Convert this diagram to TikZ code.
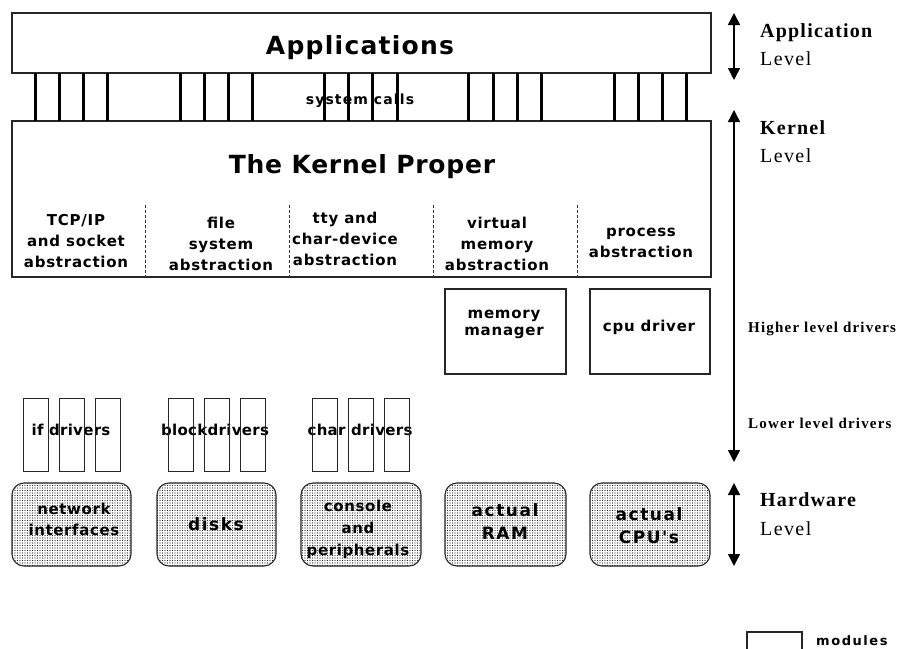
\documentclass[tikz,border=0pt]{standalone}
\usepackage{fontspec}
\setmainfont{Liberation Serif}
\newfontfamily\ksans{DejaVu Sans}
\newfontfamily\kserif{Liberation Serif}
\usetikzlibrary{arrows.meta,patterns.meta}
\begin{document}
\begin{tikzpicture}[x=1pt,y=-1pt,
  box/.style={draw=black!85, line width=1.1pt, inner sep=0pt, outer sep=0pt},
  hw/.style={box, rounded corners=12pt, pattern={Dots[distance=2.5pt, radius=0.55pt]}, pattern color=black!85},
  modbox/.style={draw=black!85, line width=0.9pt, minimum width=25pt, minimum height=73pt, inner sep=0pt, outer sep=0pt},
  sysbar/.style={line width=3pt},
  sepline/.style={draw=black!80, line width=0.8pt, dash pattern=on 3pt off 2pt},
  lvlarrow/.style={line width=1.4pt, {Triangle[width=12pt,length=12pt]}-{Triangle[width=12pt,length=12pt]}},
  bigtxt/.style={font=\ksans\bfseries\fontsize{25}{30}\selectfont\addfontfeatures{LetterSpace=5}, inner sep=0pt, anchor=base},
  stxt/.style={font=\ksans\bfseries\fontsize{15}{21}\selectfont\addfontfeatures{LetterSpace=5}, align=center, inner sep=0pt},
  modtxt/.style={font=\ksans\bfseries\fontsize{15}{21}\selectfont\addfontfeatures{LetterSpace=2}, inner sep=0pt, anchor=base},
  hwtxt/.style={font=\ksans\bfseries\fontsize{15}{21}\selectfont\addfontfeatures{LetterSpace=4}, align=center, inner sep=0pt},
  hwbig/.style={font=\ksans\bfseries\fontsize{17}{23}\selectfont\addfontfeatures{LetterSpace=9}, align=center, inner sep=0pt},
  lvlb/.style={font=\kserif\bfseries\fontsize{20}{22}\selectfont\addfontfeatures{LetterSpace=6}, inner sep=0pt, anchor=base west},
  lvlr/.style={font=\kserif\fontsize{20}{22}\selectfont\addfontfeatures{LetterSpace=7}, inner sep=0pt, anchor=base west},
  drvtxt/.style={font=\kserif\bfseries\fontsize{15}{18}\selectfont\addfontfeatures{LetterSpace=8}, inner sep=0pt, anchor=base west}
]
\fill[white] (0,0) rectangle (907,648);
\useasboundingbox (0,0) rectangle (907,648);

% main boxes
\node[box, minimum width=699pt, minimum height=60pt] (apps) at (361.5,43) {};
\node[bigtxt] (appstxt) at (360,54) {Applications};
\node[box, minimum width=699pt, minimum height=156pt] (kern) at (361.5,199) {};
\node[bigtxt, font=\ksans\bfseries\fontsize{25}{30}\selectfont\addfontfeatures{LetterSpace=3}] (kerntxt) at (362,173) {The Kernel Proper};

% system calls
\node[stxt, anchor=base, font=\ksans\bfseries\fontsize{14}{21}\selectfont\addfontfeatures{LetterSpace=8}] (sctxt) at (360,104) {system calls};
\foreach \x in {35,59,83,107,180,204,228,252,324,348,372,397,468,493,517,541,614,638,662,686}
  \draw[sysbar] (\x,73) -- (\x,121);

% abstraction separators
\foreach \x in {145,289,433,577}
  \draw[sepline] (\x,205) -- (\x,277);

% abstraction texts
\node[stxt] (tcp) at (76,241) {TCP/IP\\and socket\\abstraction};
\node[stxt] (fs) at (221,244) {file\\system\\abstraction};
\node[stxt] (tty) at (345,239) {tty and\\char-device\\abstraction};
\node[stxt] (vm) at (497,244) {virtual\\memory\\abstraction};
\node[stxt] (proc) at (641,243) {process\\abstraction};

% higher level drivers
\node[box, minimum width=121pt, minimum height=85pt] (mm) at (505.5,331.5) {};
\node[stxt, font=\ksans\bfseries\fontsize{15}{17}\selectfont\addfontfeatures{LetterSpace=5}] (mmtxt) at (504,324) {memory\\manager};
\node[box, minimum width=120pt, minimum height=85pt] (cpud) at (650,331.5) {};
\node[stxt] (cpudtxt) at (649,327) {cpu driver};

% lower level driver modules (text first, boxes drawn over it)
\node[modtxt] (iftxt) at (71,435) {if drivers};
\node[modtxt] (blktxt) at (215,435) {blockdrivers};
\node[modtxt] (chrtxt) at (360,435) {char drivers};
\foreach \x/\n in {35.5/if1,71.5/if2,108/if3,180.5/bl1,216.5/bl2,252.5/bl3,324.5/ch1,360.5/ch2,396.5/ch3}
  \node[modbox] (\n) at (\x,434.5) {};

% hardware
\node[hw, minimum width=119pt, minimum height=83pt] (net) at (71.5,524.5) {};
\node[hwtxt] (nettxt) at (74,519) {network\\interfaces};
\node[hw, minimum width=119pt, minimum height=83pt] (disk) at (216.5,524.5) {};
\node[hwbig] (disktxt) at (216,524) {disks};
\node[hw, minimum width=120pt, minimum height=83pt] (cons) at (361,524.5) {};
\node[hwtxt, font=\ksans\bfseries\fontsize{15}{22}\selectfont\addfontfeatures{LetterSpace=4}] (constxt) at (358,529) {console\\and\\peripherals};
\node[hw, minimum width=121pt, minimum height=83pt] (ram) at (505.5,524.5) {};
\node[hwbig] (ramtxt) at (505,522) {actual\\RAM};
\node[hw, minimum width=120pt, minimum height=83pt] (cpu) at (650,524.5) {};
\node[hwbig] (cputxt) at (649,526) {actual\\CPU's};

% level arrows
\coordinate (aT) at (734,13);
\coordinate (aB) at (734,80);
\coordinate (kT) at (734,110);
\coordinate (kB) at (734,462);
\coordinate (hT) at (734,483);
\coordinate (hB) at (734,566);
\draw[lvlarrow] (aT) -- (aB);
\draw[lvlarrow] (kT) -- (kB);
\draw[lvlarrow] (hT) -- (hB);

% level labels
\node[lvlb] (l1) at (760,37) {Application};
\node[lvlr] (l2) at (760,65) {Level};
\node[lvlb] (l3) at (760,134) {Kernel};
\node[lvlr] (l4) at (760,162) {Level};
\node[drvtxt] (l5) at (748,332) {Higher level drivers};
\node[drvtxt] (l6) at (748,428) {Lower level drivers};
\node[lvlb] (l7) at (760,506) {Hardware};
\node[lvlr] (l8) at (760,535) {Level};

% legend
\node[box, minimum width=55pt, minimum height=30pt, anchor=north west] (leg) at (747,632) {};
\node[stxt, anchor=base west, font=\ksans\bfseries\fontsize{13}{16}\selectfont\addfontfeatures{LetterSpace=12}] (legtxt) at (816,645) {modules};
\end{tikzpicture}
\end{document}
